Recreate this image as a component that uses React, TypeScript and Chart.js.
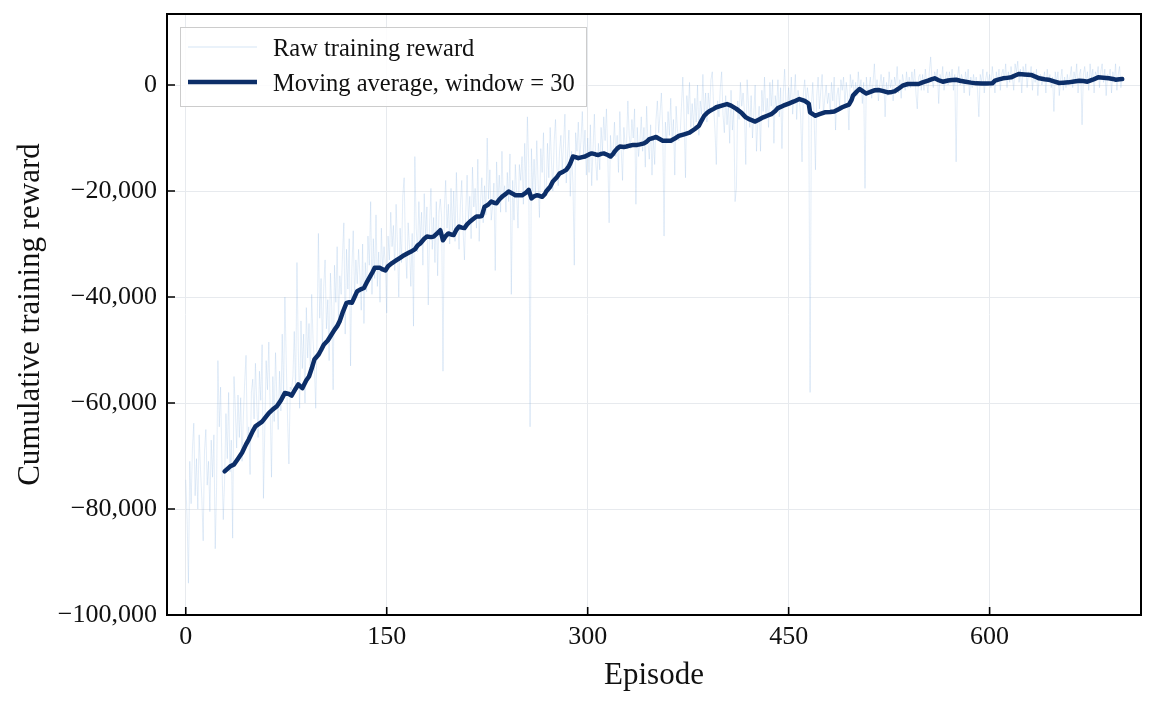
import React, { useEffect, useRef } from 'react';
import { Chart, registerables } from 'chart.js';

Chart.register(...registerables);

// raw reward per episode (episodes 0..699)
const rawReward: number[] = [
  -74500, -82000, -94000, -71000, -79000, -68500, -63800, -77500, -70500, -80000, // 0
  -66000, -72500, -78000, -86000, -69000, -65000, -75500, -71000, -80500, -67000, // 10
  -74000, -66000, -87500, -76000, -52000, -64500, -57000, -71500, -82000, -74500, // 20
  -62000, -70500, -58000, -73000, -67000, -85500, -55000, -61000, -68500, -58500, // 30
  -66500, -59000, -71000, -62500, -56000, -51000, -68000, -64500, -73500, -58000, // 40
  -55500, -63000, -52500, -60000, -66500, -54000, -59500, -49000, -78000, -65000, // 50
  -52000, -57500, -48500, -61000, -74000, -55000, -63500, -50500, -59000, -65000, // 60
  -54000, -61500, -47000, -58500, -40000, -52000, -63000, -71500, -57000, -57500, // 70
  -55000, -46500, -58000, -33500, -50000, -61000, -44500, -53500, -47000, -60000, // 80
  -42000, -51500, -45000, -55000, -39500, -48000, -52500, -61000, -47500, -28000, // 90
  -44000, -36500, -49500, -38000, -33000, -46000, -40500, -52000, -35500, -42000, // 100
  -57500, -34000, -41000, -30500, -44500, -36000, -39500, -32000, -26000, -47000, // 110
  -31000, -38500, -29000, -53000, -34500, -27500, -40000, -33000, -37500, -31000, // 120
  -36000, -42500, -30000, -45000, -33500, -39000, -28500, -34000, -22000, -39500, // 130
  -29000, -36500, -24500, -38000, -31500, -41000, -27000, -35000, -30500, -34000, // 140
  -43000, -28500, -33000, -24000, -30500, -26500, -35000, -22500, -30000, -40000, // 150
  -27000, -33500, -21000, -17500, -31000, -36500, -26000, -30500, -38000, -28000, // 160
  -45500, -13500, -27000, -31500, -22000, -29500, -24000, -34000, -20500, -28500, // 170
  -23000, -41500, -26500, -19500, -31000, -25000, -33500, -22000, -36000, -24000, // 180
  -21500, -25000, -54000, -23500, -18000, -27000, -22500, -30000, -19500, -28000, // 190
  -20000, -29500, -16500, -26000, -31000, -22500, -18000, -27500, -33000, -24000, // 200
  -17000, -25500, -21000, -29000, -15500, -23000, -19500, -27000, -14000, -29500, // 210
  -22000, -17500, -26000, -19000, -24500, -10000, -21500, -16000, -25500, -23000, // 220
  -18500, -35000, -14500, -22000, -17000, -24000, -12500, -21500, -19000, -24000, // 230
  -16500, -22000, -13000, -39500, -18000, -25500, -15000, -20500, -27000, -15000, // 240
  -18000, -13500, -22500, -11000, -19500, -6000, -15000, -64500, -12000, -20000, // 250
  -14000, -21000, -10500, -18500, -25000, -12000, -16500, -9000, -20000, -20500, // 260
  -11000, -17500, -8000, -14500, -20000, -10500, -6500, -15500, -19000, -12500, // 270
  -9500, -16000, -11000, -5500, -18500, -13000, -8500, -21000, -12500, -18500, // 280
  -34000, -9000, -12500, -7000, -14000, -10500, -5000, -13500, -8500, -17000, // 290
  -10000, -16500, -7500, -19000, -12000, -5500, -14500, -18000, -11000, -16000, // 300
  -8000, -12500, -6000, -10500, -4500, -13000, -26000, -9500, -14000, -12000, // 310
  -7000, -13500, -9500, -16500, -5000, -12000, -18000, -8000, -11500, -11000, // 320
  -3000, -9500, -12000, -6500, -10000, -4500, -22500, -8000, -13500, -10500, // 330
  -6000, -12500, -8000, -15500, -4000, -11000, -14000, -7500, -17000, -9500, // 340
  -15000, -6500, -3000, -9000, -5500, -1500, -8000, -28500, -7000, -11000, // 350
  -5000, -9500, -2500, -11000, -6500, -17000, -4000, -8500, -10500, -9500, // 360
  -4000, 1500, -6500, -17500, -2000, -5500, 500, -8000, -3500, -8000, // 370
  -2500, -7000, 0, -9500, -3000, -5500, 2000, -6000, -1500, -7000, // 380
  -1500, -5000, 1000, 2500, -4000, -8500, -15000, -3000, -6000, -500, // 390
  2500, -5500, -9000, -2000, -7500, -3500, -11000, -1000, -8500, -4500, // 400
  -22000, -19500, -3000, -6500, 500, -4000, -1500, -5000, -15000, 1000, // 410
  -3500, -8000, -2000, -10000, -5500, 0, -12500, -7000, -4000, -12500, // 420
  -1000, -5000, 1500, -6500, -2500, -8000, 500, -4000, 1000, -11000, // 430
  -2000, -4500, 1000, -6000, -500, -12000, -1500, 3000, -3500, -4000, // 440
  -500, -4000, 1500, -5500, -2000, 2000, -6500, -1000, -3000, -6000, // 450
  -14500, -1500, 1000, -3500, -500, -2500, -58000, -4000, 500, -6000, // 460
  -16000, -2000, 1500, -4500, -1000, 2000, -5500, -2500, 0, -3500, // 470
  -1500, -5000, 500, -3000, 1500, -8500, -2000, -500, -4000, 1000, // 480
  -1000, 1500, -3500, 500, -2000, -8500, 2000, -500, 1000, -2500, // 490
  500, -2000, 2500, -1000, 1000, -3500, 500, -19500, 1500, -1500, // 500
  -500, 1500, -2500, 500, 4000, -1500, 1000, -3000, 0, 2000, // 510
  -1000, 1500, -6000, 500, -2000, 2500, -500, 1000, -3000, 1500, // 520
  0, 3500, -1500, 1000, -2500, 2000, 500, -1000, 2500, -500, // 530
  1500, -500, 2500, 0, 3000, -1500, -4500, 1500, 2000, -1000, // 540
  2000, -1000, 3000, 500, -1500, 2500, 5300, 1000, -500, 2500, // 550
  1500, 3000, -3500, 2000, 500, 3500, -1000, 1500, 2500, 0, // 560
  2500, 500, 3000, -1000, 2000, -14500, 1500, 3500, 0, 2000, // 570
  1000, -1500, 2500, 500, 3000, -2000, 1500, -500, 2000, 0, // 580
  1500, -1000, -6000, 2000, 500, 3000, -1500, 1000, 2500, 0, // 590
  2000, -500, 3500, 1000, -1500, 2500, 500, 3000, -1000, 2000, // 600
  3000, 1000, 4000, -500, 2500, 500, 3500, 1500, -1000, 4000, // 610
  2500, 4500, 500, 3000, -1500, 3500, 1500, 4000, -500, 2500, // 620
  1500, 3500, -1000, 2500, 500, 3000, -2000, 1500, 2000, 0, // 630
  1000, 2500, -1500, 3000, 500, 2000, -500, 1500, -5000, 2500, // 640
  500, 2500, -2000, 1000, 3000, -1000, 1500, -500, 2000, 0, // 650
  1500, 3500, -500, 2500, 1000, 4000, -1500, 2000, 3000, -7500, // 660
  2000, 3500, 500, 2500, -1000, 4000, 1000, 3000, -1500, 2500, // 670
  1500, 3500, -500, 2500, 4000, 500, 3000, -2000, 2000, 1500, // 680
  3000, -1500, 2500, 500, 4000, -1000, 2000, 3500, -500, 1500, // 690
];

// moving average (window = 30)
const maEpisodes: number[] = [
  29, 33, 36, 39, 42, 45, 47, 50, 52, 57, 62, 65, 68, 71, 74, 77, 79, 82, 84, 87,
  90, 92, 94, 96, 99, 101, 103, 106, 108, 111, 113, 115, 117, 120, 122, 124, 126, 128, 131, 133,
  135, 137, 139, 141, 143, 145, 147, 149, 151, 154, 157, 160, 163, 166, 169, 171, 173, 175, 178, 180,
  183, 185, 188, 190, 192, 194, 196, 198, 200, 202, 204, 206, 208, 210, 212, 215, 217, 219, 221, 223,
  226, 228, 230, 232, 234, 236, 239, 241, 244, 246, 249, 251, 254, 256, 258, 260, 262, 264, 266, 268,
  269, 272, 274, 277, 279, 282, 284, 286, 287, 289, 291, 293, 296, 298, 301, 303, 306, 308, 310, 312,
  315, 317, 319, 320, 322, 324, 327, 329, 332, 334, 337, 339, 342, 344, 346, 349, 351, 353, 356, 359,
  362, 365, 368, 372, 376, 380, 383, 385, 387, 389, 391, 394, 396, 400, 404, 407, 411, 415, 418, 421,
  425, 428, 431, 434, 437, 440, 442, 446, 450, 454, 458, 462, 465, 466, 468, 470, 473, 477, 481, 484,
  487, 490, 493, 495, 497, 498, 501, 503, 506, 508, 511, 514, 517, 520, 524, 527, 529, 532, 535, 539,
  543, 547, 550, 554, 557, 559, 562, 565, 569, 572, 575, 578, 582, 586, 590, 594, 598, 602, 604, 607,
  610, 613, 616, 619, 622, 626, 631, 634, 637, 641, 644, 648, 652, 655, 659, 663, 667, 670, 673, 677,
  681, 685, 689, 692, 694, 697, 699,
];
const maReward: number[] = [
  -72900, -72000, -71600, -70500, -69400, -67800, -66900, -65300, -64400, -63500, -61900, -61200, -60600, -59500, -58100, -58300, -58600, -57300, -56500, -57200,
  -55700, -55000, -53500, -51800, -50900, -50000, -49000, -48200, -47400, -46200, -45500, -44500, -43000, -41100, -41000, -41100, -40000, -38900, -38500, -38300,
  -37300, -36400, -35500, -34500, -34500, -34500, -34800, -35000, -34200, -33600, -33100, -32600, -32100, -31700, -31300, -31000, -30300, -29900, -29000, -28600,
  -28700, -28600, -27900, -27400, -29300, -28500, -28000, -28200, -28300, -27300, -26700, -26900, -27000, -26300, -25800, -25200, -24800, -24800, -24700, -23000,
  -22500, -22000, -22200, -22300, -21600, -21100, -20500, -20100, -20500, -20800, -20800, -20800, -20300, -19800, -21400, -21000, -20800, -20900, -21100, -20600,
  -20100, -19200, -18200, -17400, -16700, -16300, -16000, -15300, -14800, -13500, -13600, -13800, -13600, -13500, -13100, -12900, -13100, -13200, -13000, -12900,
  -13200, -13500, -13000, -12600, -12000, -11600, -11700, -11600, -11400, -11300, -11300, -11200, -11000, -10700, -10200, -10000, -9800, -10100, -10500, -10500,
  -10500, -10100, -9600, -9300, -9000, -8300, -7700, -6700, -5800, -5300, -4900, -4500, -4200, -3900, -3600, -3900, -4500, -5300, -6100, -6500,
  -6900, -6500, -6100, -5800, -5500, -4900, -4350, -3900, -3500, -3100, -2650, -3000, -3500, -5150, -5500, -5800, -5500, -5150, -5100, -5000,
  -4600, -4200, -3900, -3700, -2800, -2000, -1200, -750, -1300, -1600, -1300, -1000, -950, -1100, -1400, -1300, -1200, -700, -130, 190,
  200, 190, 500, 820, 1100, 1260, 900, 630, 850, 950, 1000, 800, 630, 450, 310, 300, 280, 310, 820, 1050,
  1260, 1350, 1450, 1800, 2100, 2000, 1900, 1600, 1260, 1100, 1000, 700, 380, 450, 500, 650, 820, 750, 630, 1000,
  1450, 1350, 1260, 1150, 1000, 1100, 1130,
];

const xTicks = [0, 150, 300, 450, 600];
const yTicks = [-100000, -80000, -60000, -40000, -20000, 0];

const RAW_LABEL = 'Raw training reward';
const MA_LABEL = 'Moving average, window = 30';
const RAW_COLOR = 'rgba(140, 180, 225, 0.24)';
const MA_COLOR = '#0c2e68';
const GRID_COLOR = '#e7eaee';
const FONT = '"Liberation Serif", "Times New Roman", serif';

const fmt = (v: number) => (v < 0 ? '\u2212' : '') + Math.abs(v).toLocaleString('en-US');

// box, inward ticks and legend drawn on top, like matplotlib
const framePlugin = {
  id: 'frame',
  afterDatasetsDraw(chart: any) {
    const { ctx, chartArea: a, scales } = chart;
    ctx.save();
    ctx.strokeStyle = '#000';
    ctx.lineWidth = 1.6;
    ctx.beginPath();
    xTicks.forEach(v => {
      const px = scales.x.getPixelForValue(v);
      ctx.moveTo(px, a.bottom);
      ctx.lineTo(px, a.bottom - 8);
    });
    yTicks.forEach(v => {
      const py = scales.y.getPixelForValue(v);
      ctx.moveTo(a.left, py);
      ctx.lineTo(a.left + 8, py);
    });
    ctx.stroke();
    ctx.lineWidth = 2;
    ctx.strokeRect(a.left, a.top, a.right - a.left, a.bottom - a.top);

    // legend
    const bx = a.left + 13;
    const by = a.top + 13;
    ctx.fillStyle = 'rgba(255,255,255,0.85)';
    ctx.fillRect(bx, by, 406, 79);
    ctx.strokeStyle = '#cccccc';
    ctx.lineWidth = 1;
    ctx.strokeRect(bx + 0.5, by + 0.5, 406, 79);
    const rows = [
      { label: RAW_LABEL, color: RAW_COLOR, width: 1.5 },
      { label: MA_LABEL, color: MA_COLOR, width: 4.5 },
    ];
    ctx.font = '24.5px ' + FONT;
    ctx.textBaseline = 'alphabetic';
    ctx.textAlign = 'left';
    rows.forEach((r, i) => {
      const ly = by + 20 + i * 35;
      ctx.strokeStyle = r.color;
      ctx.lineWidth = r.width;
      ctx.beginPath();
      ctx.moveTo(bx + 8, ly);
      ctx.lineTo(bx + 77, ly);
      ctx.stroke();
      ctx.fillStyle = '#111';
      ctx.fillText(r.label, bx + 93, by + 29 + i * 34.7);
    });
    ctx.restore();
  },
};

function RewardChart() {
  const chartRef = useRef<HTMLCanvasElement | null>(null);
  const chartInstance = useRef<Chart | null>(null);

  useEffect(() => {
    if (!chartRef.current) return;
    if (chartInstance.current) chartInstance.current.destroy();
    const ctx = chartRef.current.getContext('2d');
    if (!ctx) return;

    chartInstance.current = new Chart(ctx, {
      type: 'line',
      data: {
        datasets: [
          {
            label: MA_LABEL,
            data: maEpisodes.map((e, i) => ({ x: e, y: maReward[i] })),
            borderColor: MA_COLOR,
            borderWidth: 4.5,
            pointRadius: 0,
            borderJoinStyle: 'round',
            borderCapStyle: 'round',
            order: 1,
          },
          {
            label: RAW_LABEL,
            data: rawReward.map((r, i) => ({ x: i, y: r })),
            borderColor: RAW_COLOR,
            borderWidth: 1,
            pointRadius: 0,
            order: 2,
          },
        ],
      },
      options: {
        animation: false,
        responsive: false,
        layout: { padding: { top: 14, right: 13, left: 0, bottom: 0 } },
        plugins: { legend: { display: false }, tooltip: { enabled: false } },
        scales: {
          x: {
            type: 'linear',
            min: -14,
            max: 713,
            afterBuildTicks: (s: any) => { s.ticks = xTicks.map(v => ({ value: v })); },
            afterFit: (s: any) => { s.height = 89; s.paddingLeft = 0; s.paddingRight = 0; },
            ticks: { color: '#111', padding: 7, font: { family: FONT, size: 26 }, maxRotation: 0, callback: (v: any) => String(v) },
            grid: { color: GRID_COLOR, lineWidth: 1, drawTicks: false },
            border: { display: false },
            title: { display: true, text: 'Episode', color: '#111', font: { family: FONT, size: 31 }, padding: { top: 0, bottom: 10 } },
          },
          y: {
            type: 'linear',
            min: -100000,
            max: 13400,
            afterBuildTicks: (s: any) => { s.ticks = yTicks.map(v => ({ value: v })); },
            afterFit: (s: any) => { s.width = 167; s.paddingTop = 0; s.paddingBottom = 0; },
            ticks: { color: '#111', padding: 10, font: { family: FONT, size: 26, lineHeight: 1 }, callback: (v: any) => fmt(Number(v)) },
            grid: { color: GRID_COLOR, lineWidth: 1, drawTicks: false },
            border: { display: false },
            title: { display: true, text: 'Cumulative training reward', color: '#111', font: { family: FONT, size: 31 }, padding: { top: 12, bottom: 0 } },
          },
        },
      },
      plugins: [framePlugin],
    });

    return () => {
      if (chartInstance.current) {
        chartInstance.current.destroy();
        chartInstance.current = null;
      }
    };
  }, []);

  return <canvas ref={chartRef} width={1154} height={704} />;
}

export default function App() {
  return (
    <div style={{ position: 'fixed', left: 0, top: 0, width: 1154, height: 704, background: '#fff' }}>
      <RewardChart />
    </div>
  );
}
